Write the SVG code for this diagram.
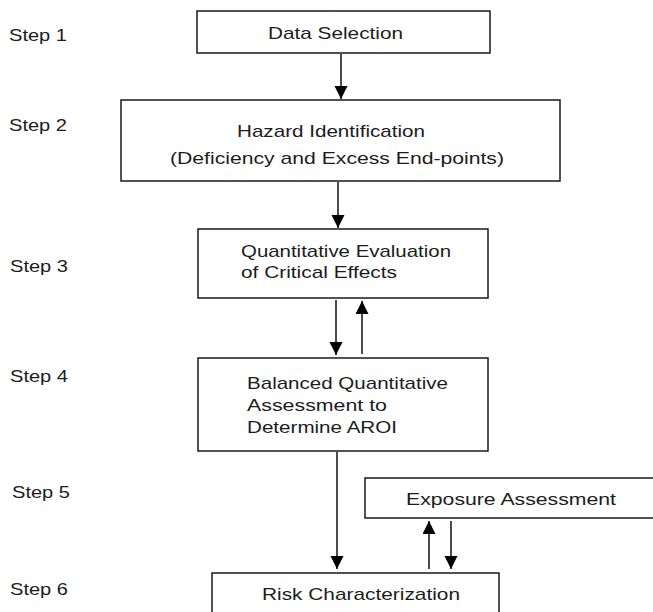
<svg xmlns="http://www.w3.org/2000/svg" width="653" height="612" viewBox="0 0 653 612">
<style>
.box{fill:#fff;stroke:#1a1a1a;stroke-width:1.5}
.t{font-family:"Liberation Sans",Arial,sans-serif;font-size:17px;fill:#1c1c1c}
.c{stroke:#111;stroke-width:1.5;fill:none;marker-end:url(#ah)}
</style>
<defs>
<marker id="ah" markerUnits="userSpaceOnUse" markerWidth="14" markerHeight="14" viewBox="0 0 13 14" refX="13" refY="6.5" orient="auto">
<path d="M0,0 L13,6.5 L0,13 Z" fill="#000"/>
</marker>
</defs>
<rect width="653" height="612" fill="#fff"/>
<g id="steps">
<text class="t" x="9" y="41" textLength="58" lengthAdjust="spacingAndGlyphs">Step 1</text>
<text class="t" x="9" y="131" textLength="58" lengthAdjust="spacingAndGlyphs">Step 2</text>
<text class="t" x="10" y="272" textLength="58" lengthAdjust="spacingAndGlyphs">Step 3</text>
<text class="t" x="10" y="382" textLength="58" lengthAdjust="spacingAndGlyphs">Step 4</text>
<text class="t" x="12" y="498" textLength="58" lengthAdjust="spacingAndGlyphs">Step 5</text>
<text class="t" x="10" y="595" textLength="58" lengthAdjust="spacingAndGlyphs">Step 6</text>
</g>
<g id="n1">
<rect class="box" x="197" y="11" width="293" height="42"/>
<text class="t" x="268" y="39" textLength="135" lengthAdjust="spacingAndGlyphs">Data Selection</text>
</g>
<g id="n2">
<rect class="box" x="121" y="100" width="439" height="81"/>
<text class="t" x="237" y="137" textLength="188" lengthAdjust="spacingAndGlyphs">Hazard Identification</text>
<text class="t" x="170" y="164" textLength="334" lengthAdjust="spacingAndGlyphs">(Deficiency and Excess End-points)</text>
</g>
<g id="n3">
<rect class="box" x="198" y="229" width="290" height="69"/>
<text class="t" x="241" y="257" textLength="210" lengthAdjust="spacingAndGlyphs">Quantitative Evaluation</text>
<text class="t" x="241" y="278" textLength="156" lengthAdjust="spacingAndGlyphs">of Critical Effects</text>
</g>
<g id="n4">
<rect class="box" x="198" y="358" width="290" height="93"/>
<text class="t" x="247" y="389" textLength="201" lengthAdjust="spacingAndGlyphs">Balanced Quantitative</text>
<text class="t" x="247" y="411" textLength="140" lengthAdjust="spacingAndGlyphs">Assessment to</text>
<text class="t" x="247" y="433" textLength="150" lengthAdjust="spacingAndGlyphs">Determine AROI</text>
</g>
<g id="n5">
<rect class="box" x="365" y="478" width="320" height="40"/>
<text class="t" x="406" y="505" textLength="210" lengthAdjust="spacingAndGlyphs">Exposure Assessment</text>
</g>
<g id="n6">
<rect class="box" x="212" y="573" width="287" height="60"/>
<text class="t" x="262" y="600" textLength="198" lengthAdjust="spacingAndGlyphs">Risk Characterization</text>
</g>
<g id="connectors">
<line class="c" x1="341" y1="54" x2="341" y2="99"/>
<line class="c" x1="338" y1="182" x2="338" y2="228"/>
<line class="c" x1="336" y1="300" x2="336" y2="355"/>
<line class="c" x1="362" y1="354" x2="362" y2="301"/>
<line class="c" x1="337" y1="452" x2="337" y2="569"/>
<line class="c" x1="429" y1="569" x2="429" y2="521"/>
<line class="c" x1="451" y1="521" x2="451" y2="569"/>
</g>
</svg>
